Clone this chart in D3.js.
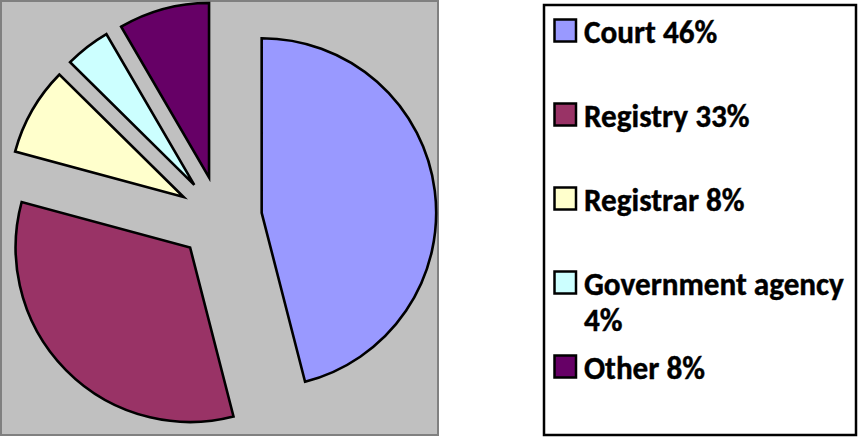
<!DOCTYPE html>
<html>
<head>
<meta charset="utf-8">
<script src="https://cdn.jsdelivr.net/npm/d3@7"></script>
<style>
  html, body { margin: 0; padding: 0; background: #ffffff; }
  svg { display: block; }
</style>
</head>
<body>
<svg id="chart" width="858" height="437"></svg>
<script>
// ---- data ----
const categories = ["Court", "Registry", "Registrar", "Government agency", "Other"];
const values = [46.0, 33.2, 8.2, 4.2, 8.4];
const legendLabels = [["Court 46%"], ["Registry 33%"], ["Registrar 8%"], ["Government agency", "4%"], ["Other 8%"]];
const colors = ["#9999FF", "#993366", "#FFFFCC", "#CCFFFF", "#660066"];

const svg = d3.select("#chart");

// plot area
svg.append("rect")
  .attr("x", 1).attr("y", 1).attr("width", 437).attr("height", 434)
  .attr("fill", "#C0C0C0").attr("stroke", "#808080").attr("stroke-width", 2);

const cx = 220, cy = 218, radius = 174.5, explode = 42;

const pie = d3.pie().sort(null).value(d => d).startAngle(0).endAngle(2 * Math.PI);
const arcs = pie(values);
const arc = d3.arc().innerRadius(0).outerRadius(radius);

const g = svg.append("g").attr("transform", `translate(${cx},${cy})`);
g.selectAll("path.slice")
  .data(arcs)
  .join("path")
  .attr("class", "slice")
  .attr("d", arc)
  .attr("transform", d => {
    const mid = (d.startAngle + d.endAngle) / 2;
    return `translate(${explode * Math.sin(mid)},${-explode * Math.cos(mid)})`;
  })
  .attr("fill", (d, i) => colors[i])
  .attr("stroke", "#000")
  .attr("stroke-width", 2.6)
  .attr("stroke-linejoin", "miter");

// legend
svg.append("rect")
  .attr("x", 544).attr("y", 5).attr("width", 312).attr("height", 430)
  .attr("fill", "#fff").attr("stroke", "#000").attr("stroke-width", 2.5);

const fontFamily = "Carlito, Calibri, Lato, 'Open Sans', sans-serif";
// measure to fit the reference text width
const probe = svg.append("text").attr("font-family", fontFamily).attr("font-weight", "bold")
  .attr("font-size", 30).text("Government agency");
const w = probe.node().getComputedTextLength();
probe.remove();
const fontSize = 30 * 260 / w;

const itemTop = [19, 103, 187, 271, 355];
const lg = svg.append("g");
legendLabels.forEach((lines, i) => {
  const y0 = itemTop[i];
  lg.append("rect")
    .attr("x", 554.5).attr("y", y0 + 0.5).attr("width", 21.5).attr("height", 22)
    .attr("fill", colors[i]).attr("stroke", "#000").attr("stroke-width", 2.5);
  lines.forEach((t, k) => {
    lg.append("text")
      .attr("transform", `translate(584,${y0 + 24 + k * 36}) scale(1,1.04)`)
      .attr("font-family", fontFamily).attr("font-weight", "bold")
      .attr("font-size", fontSize).attr("fill", "#000")
      .attr("stroke", "#000").attr("stroke-width", 0.4)
      .text(t);
  });
});
</script>
</body>
</html>
